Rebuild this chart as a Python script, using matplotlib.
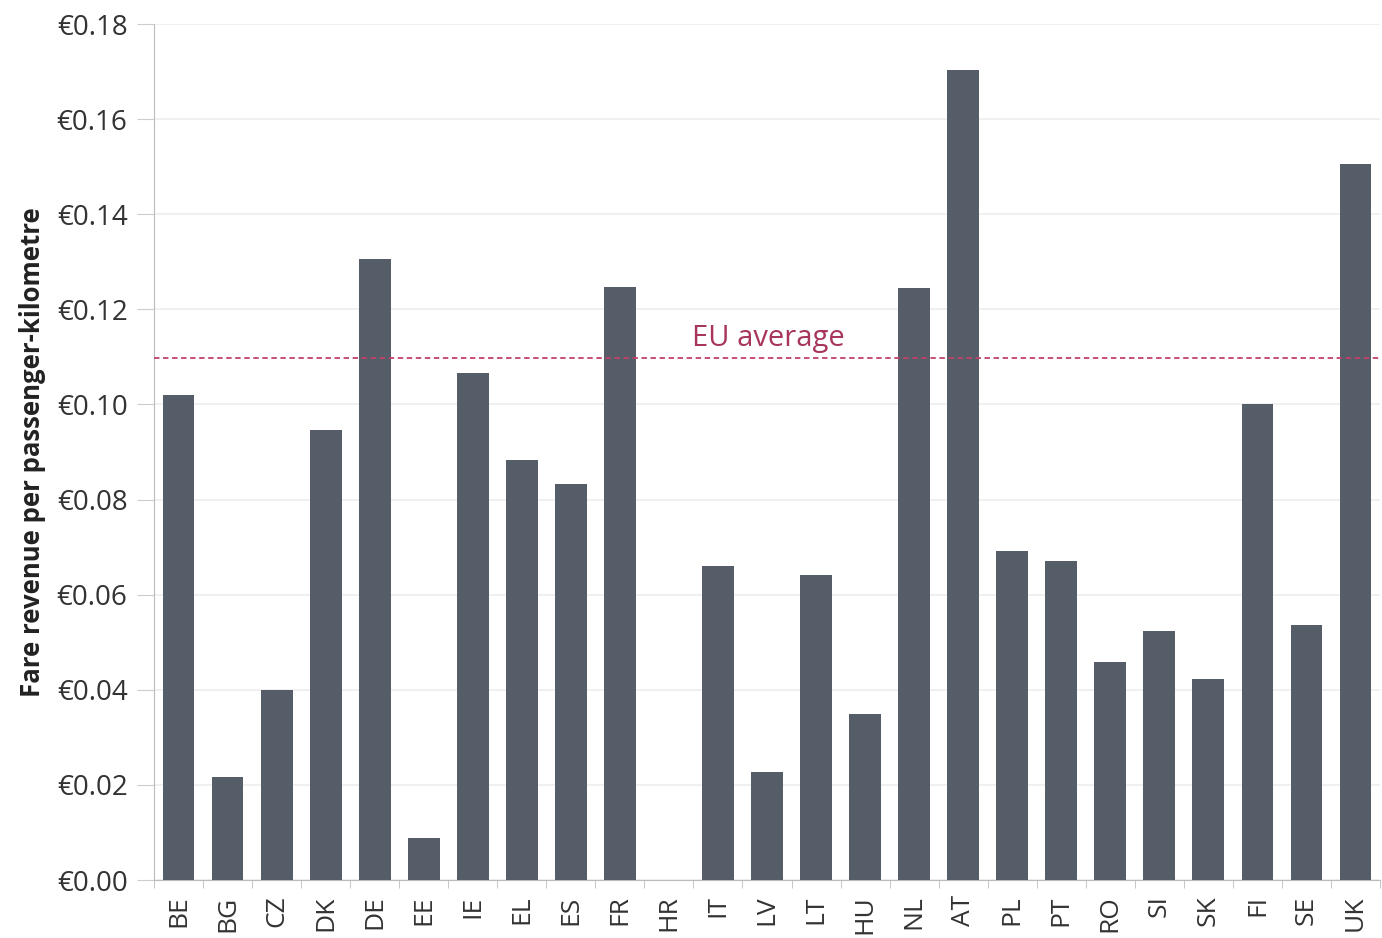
import matplotlib
matplotlib.use("Agg")
import matplotlib.pyplot as plt
from matplotlib.ticker import FuncFormatter, MultipleLocator

plt.rcParams['font.family'] = ['Open Sans', 'DejaVu Sans']

# Data
countries = ["BE", "BG", "CZ", "DK", "DE", "EE", "IE", "EL", "ES", "FR", "HR", "IT", "LV",
             "LT", "HU", "NL", "AT", "PL", "PT", "RO", "SI", "SK", "FI", "SE", "UK"]
fare_revenue = [0.102, 0.0217, 0.040, 0.0947, 0.1306, 0.0088, 0.1066, 0.0883, 0.0833, 0.1247,
                0.0, 0.066, 0.0227, 0.0642, 0.0350, 0.1245, 0.1703, 0.0692, 0.0671, 0.0458,
                0.0524, 0.0423, 0.1001, 0.0536, 0.1506]
eu_average = 0.1098

fig = plt.figure(figsize=(13.82, 9.38), dpi=100)
ax = fig.add_axes([0.1114, 0.0618, 0.8872, 0.9126])

x = range(len(countries))
ax.bar(x, fare_revenue, width=0.65, color="#555d69", zorder=3)

ax.axhline(eu_average, color="#c2416b", linestyle=(0, (3, 2)), linewidth=1.3, zorder=4)
ax.text(12.03, eu_average + 0.0011, "EU average", color="#a8355e", fontsize=21,
        ha="center", va="bottom", zorder=5)

ax.set_xlim(-0.5, len(countries) - 0.5)
ax.set_ylim(0, 0.18)
ax.yaxis.set_major_locator(MultipleLocator(0.02))
ax.yaxis.set_major_formatter(FuncFormatter(lambda v, p: f"€{v:.2f}"))

ax.set_xticks(list(x))
ax.set_xticklabels(countries, rotation=90, fontsize=19, color="#333333")
ax.set_xticks([i + 0.5 for i in range(-1, len(countries))], minor=True)
ax.tick_params(axis="x", which="major", length=0, pad=11)
ax.tick_params(axis="x", which="minor", length=6, color="#bbbbbb")
ax.tick_params(axis="y", length=12, color="#cccccc", labelsize=20, labelcolor="#333333", pad=7)

ax.grid(axis="y", color="#eeeeee", linewidth=1.2, zorder=0)
for side in ["top", "right"]:
    ax.spines[side].set_visible(False)
for side in ["left", "bottom"]:
    ax.spines[side].set_color("#bbbbbb")

ax.set_ylabel("Fare revenue per passenger-kilometre", fontsize=18.5, fontweight="bold",
              color="#222222", labelpad=8)

fig.savefig("out.png", dpi=100)
